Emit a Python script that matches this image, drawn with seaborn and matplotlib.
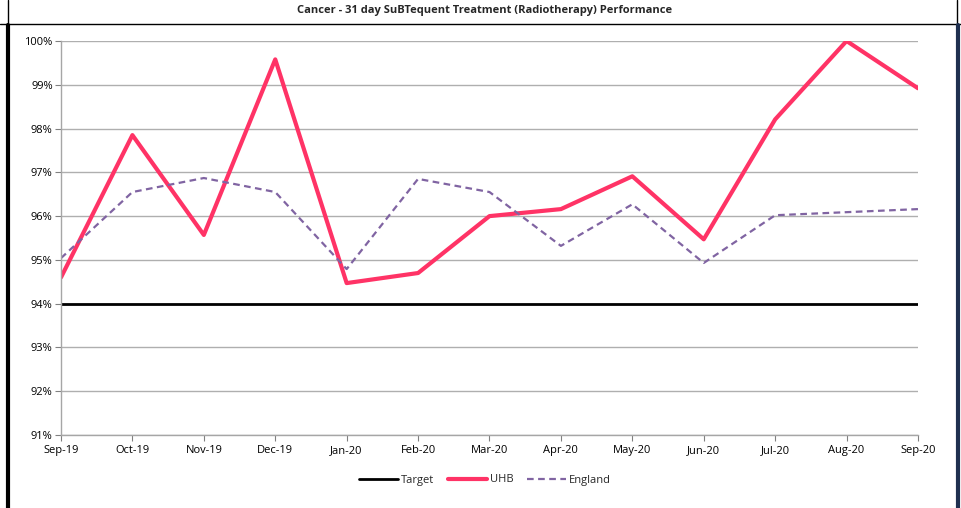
import pandas as pd
import matplotlib.pyplot as plt
import seaborn as sns
from matplotlib.lines import Line2D
from matplotlib.ticker import FuncFormatter

months = ['Sep-19', 'Oct-19', 'Nov-19', 'Dec-19', 'Jan-20', 'Feb-20', 'Mar-20',
          'Apr-20', 'May-20', 'Jun-20', 'Jul-20', 'Aug-20', 'Sep-20']
uhb = [94.6, 97.85, 95.57, 99.58, 94.47, 94.70, 96.0, 96.16, 96.91, 95.47, 98.21, 100.0, 98.92]
england = [95.04, 96.55, 96.87, 96.55, 94.79, 96.85, 96.55, 95.32, 96.27, 94.93, 96.02, 96.09, 96.16]
target = [94.0] * len(months)

df = pd.DataFrame({'pos': range(len(months)), 'Target': target, 'UHB': uhb, 'England': england})

sns.set_style('white')
plt.rcParams['font.family'] = ['Open Sans', 'DejaVu Sans']

fig = plt.figure(figsize=(9.61, 5.08), dpi=100)
ax = fig.add_axes([61 / 961, 1 - 435 / 508, (918 - 61) / 961, (435 - 41) / 508])

sns.lineplot(data=df, x='pos', y='Target', ax=ax, color='black', linewidth=2, label='Target')
sns.lineplot(data=df, x='pos', y='UHB', ax=ax, color='#FF3366', linewidth=3, label='UHB')
sns.lineplot(data=df, x='pos', y='England', ax=ax, color='#8064A2', linewidth=1.6,
             linestyle=(0, (3, 2)), label='England')

ax.set_xlim(0, len(months) - 1)
ax.set_ylim(91, 100)
ax.set_xticks(range(len(months)))
ax.set_xticklabels(months)
ax.set_yticks(range(91, 101))
ax.yaxis.set_major_formatter(FuncFormatter(lambda v, p: f'{v:.0f}%'))
ax.set_xlabel('')
ax.set_ylabel('')
ax.tick_params(axis='both', labelsize=8, colors='#808080', labelcolor='black',
               length=4, width=0.8, direction='out', bottom=True, left=True)
ax.tick_params(axis='x', pad=3)
ax.tick_params(axis='y', pad=2)
ax.grid(axis='y', color='#AFAFAF', linewidth=1)
ax.set_axisbelow(True)
for side in ['top', 'right']:
    ax.spines[side].set_visible(False)
for side in ['left', 'bottom']:
    ax.spines[side].set_color('#A6A6A6')
    ax.spines[side].set_linewidth(1)

leg = ax.legend(loc='center', bbox_to_anchor=(485 / 961, 1 - 480 / 508),
                bbox_transform=fig.transFigure, ncol=3, frameon=False, fontsize=8,
                handlelength=3.5, columnspacing=1.2, handletextpad=0.3)

fig.text(485 / 961, 1 - 10 / 508, 'Cancer - 31 day SuBTequent Treatment (Radiotherapy) Performance',
         ha='center', va='center', fontsize=8, fontweight='bold')

# outer frame lines
fig.add_artist(Line2D([0, 1], [1 - 23.5 / 508] * 2, transform=fig.transFigure, color='black', linewidth=1))
fig.add_artist(Line2D([8 / 961] * 2, [0, 1 - 25 / 508], transform=fig.transFigure, color='black', linewidth=3))
fig.add_artist(Line2D([8 / 961] * 2, [1 - 23 / 508, 1], transform=fig.transFigure, color='black', linewidth=1))
fig.add_artist(Line2D([956.5 / 961] * 2, [1 - 23 / 508, 1], transform=fig.transFigure, color='black', linewidth=1))
fig.add_artist(Line2D([957.5 / 961] * 2, [0, 1 - 25 / 508], transform=fig.transFigure, color='#1F3050', linewidth=3))

fig.savefig('out.png', dpi=100)
plt.close(fig)
